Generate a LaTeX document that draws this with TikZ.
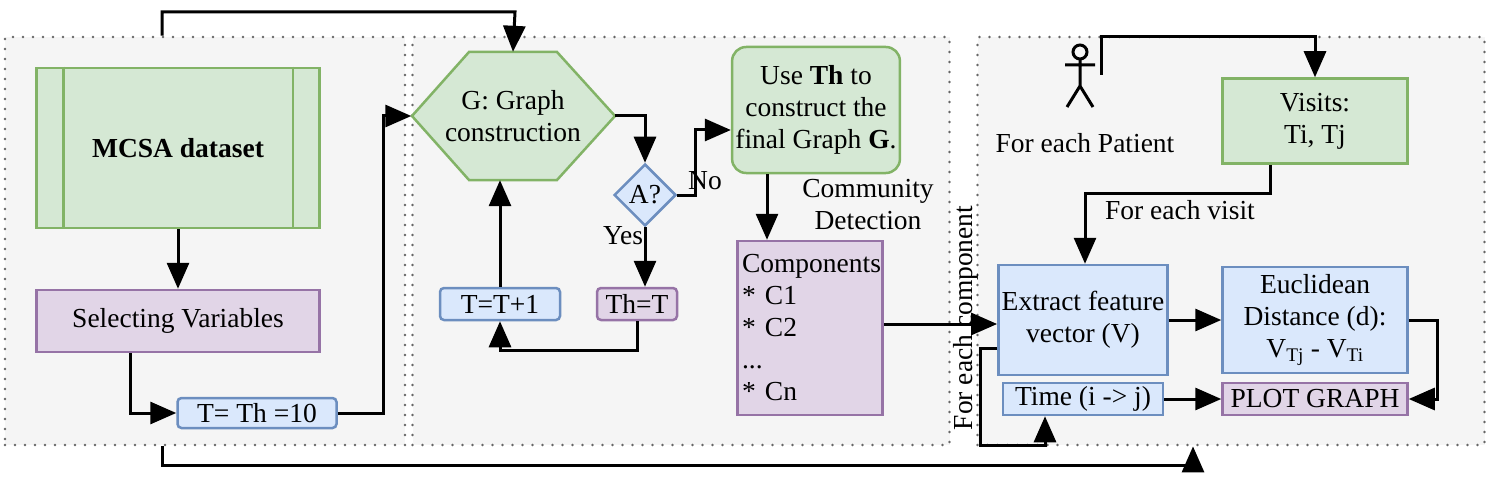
\documentclass[tikz,border=0pt]{standalone}
\usepackage{fontspec}
\setmainfont{Liberation Serif}
\usetikzlibrary{shapes.geometric,arrows.meta}
\definecolor{gfill}{HTML}{D5E8D4}
\definecolor{gline}{HTML}{82B366}
\definecolor{bfill}{HTML}{DAE8FC}
\definecolor{bline}{HTML}{6C8EBF}
\definecolor{pfill}{HTML}{E1D5E7}
\definecolor{pline}{HTML}{9673A6}
\definecolor{panelfill}{HTML}{F5F5F5}

\begin{document}
\begin{tikzpicture}[x=1pt,y=-1pt,
        every node/.style={font=\fontsize{27.5}{32}\selectfont},
        panel/.style={fill=panelfill, draw=black!60, line width=2.8pt, line cap=round, dash pattern=on 0pt off 10pt},
        green/.style={draw=gline, fill=gfill, line width=2.5pt, align=center},
        blue/.style={draw=bline, fill=bfill, line width=2.5pt, align=center},
        purple/.style={draw=pline, fill=pfill, line width=2.5pt, align=center},
        arr/.style={-{Triangle[length=26pt,width=22pt]}, line width=3pt},
        line/.style={line width=3pt},
    ]

    \useasboundingbox (0,0) rectangle (1488,484);

    % panels
    \node (p1) at (205,241) [panel, minimum width=400pt, minimum height=408pt] {};
    \node (p2) at (681,241) [panel, minimum width=537pt, minimum height=408pt] {};
    \node (p3) at (1231,241) [panel, minimum width=507pt, minimum height=408pt] {};

    % left panel
    \node (ds) at (178,148) [green, minimum width=283pt, minimum height=160pt] {\textbf{MCSA dataset}};
    \draw [green, fill=none] ([xshift=28pt]ds.north west) -- ([xshift=28pt]ds.south west);
    \draw [green, fill=none] ([xshift=-28pt]ds.north east) -- ([xshift=-28pt]ds.south east);
    \node (sel) at (178,321) [purple, minimum width=283pt, minimum height=62pt] {Selecting Variables};
    \node (tth) at (257,413) [blue, rounded corners=4pt, minimum width=159pt, minimum height=30pt, inner sep=0pt] {T= Th =10};

    % middle panel
    \draw [green] (412,116) -- (469,52) -- (557,52) -- (615,116) -- (557,180) -- (469,180) -- cycle;
    \node (hex) at (513,116) [minimum width=203pt, minimum height=128pt, align=center] {G: Graph\\construction};
    \node (dec) at (645,195) [blue, diamond, aspect=1, minimum size=62pt, inner sep=0pt] {A?};
    \node (tinc) at (500,304) [blue, rounded corners=4pt, minimum width=120pt, minimum height=32pt, inner sep=0pt] {T=T+1};
    \node (thset) at (637,304) [purple, rounded corners=4pt, minimum width=80pt, minimum height=32pt, inner sep=0pt] {Th=T};
    \node (use) at (816,110) [green, rounded corners=14pt, minimum width=162pt, minimum height=126pt] {Use \textbf{Th} to\\construct the\\final Graph \textbf{G}.};
    \node (comp) at (810,328) [purple, minimum width=145pt, minimum height=174pt, align=left, text width=136pt, inner sep=4pt] {Components\\{*} C1\\{*} C2\\...\\{*} Cn};
    \node at (705,181) {No};
    \node at (623,236) {Yes};
    \node at (868,205) [align=center] {Community\\Detection};

    % right panel
    \draw [line] (1080,52) circle (7pt) (1080,59) -- (1080,86) (1065,65) -- (1095,65)
        (1067,107) -- (1080,86) -- (1093,107);
    \coordinate (act) at (1101,75);
    \node at (1085,143) {For each Patient};
    \node (vis) at (1315,121) [green, minimum width=185pt, minimum height=85pt] {Visits:\\Ti, Tj};
    \node (ext) at (1083,320) [blue, minimum width=160pt, minimum height=110pt] {Extract feature\\vector (V)};
    \node (tim) at (1083,399) [blue, minimum width=160pt, minimum height=32pt, inner sep=0pt] {Time (i -> j)};
    \node (euc) at (1315,320) [blue, minimum width=185pt, minimum height=106pt] {Euclidean\\Distance (d):\\V\textsubscript{Tj} - V\textsubscript{Ti}};
    \node (plot) at (1315,399) [purple, minimum width=185pt, minimum height=32pt, inner sep=0pt] {PLOT GRAPH};
    \node at (1180,210) {For each visit};
    \node at (966,318) [rotate=90] {For each component};

    % connectors
    \draw [arr] (p1.north -| 162,0) |- (515,12) -- (hex.north);
    \draw [arr] (ds) -- (sel);
    \draw [arr] (sel.south -| 130,0) |- (tth);
    \draw [arr] (tth) -| (383,116) -- (hex.west);
    \draw [arr] (hex.east) -| (dec.north);
    \draw [arr] (dec.east) -| (695,130) -- (use.west |- 0,130);
    \draw [arr] (dec.south) -- (dec.south |- thset.north);
    \draw [arr] (thset.south) |- (500,350) -- (tinc.south);
    \draw [arr] (tinc) -- (tinc.north |- hex.south);
    \draw [arr] (use.south -| 767,0) -- (comp.north -| 767,0);
    \draw [arr] (comp.east |- 0,324) -- (ext.west |- 0,324);
    \draw [arr] (p1.south -| 162,0) |- (1193,465) -- (p3.south -| 1193,0);
    \draw [arr] (act) |- (1315,37) -- (vis.north);
    \draw [arr] (vis.south -| 1270,0) |- (1085,193) -- (ext.north -| 1085,0);
    \draw [arr] (ext.west |- 0,348) -| (980,445) -| (tim.south -| 1045,0);
    \draw [arr] (ext) -- (euc);
    \draw [arr] (tim) -- (plot);
    \draw [arr] (euc.east) -| (1437,399) -- (plot.east);

\end{tikzpicture}
\end{document}
